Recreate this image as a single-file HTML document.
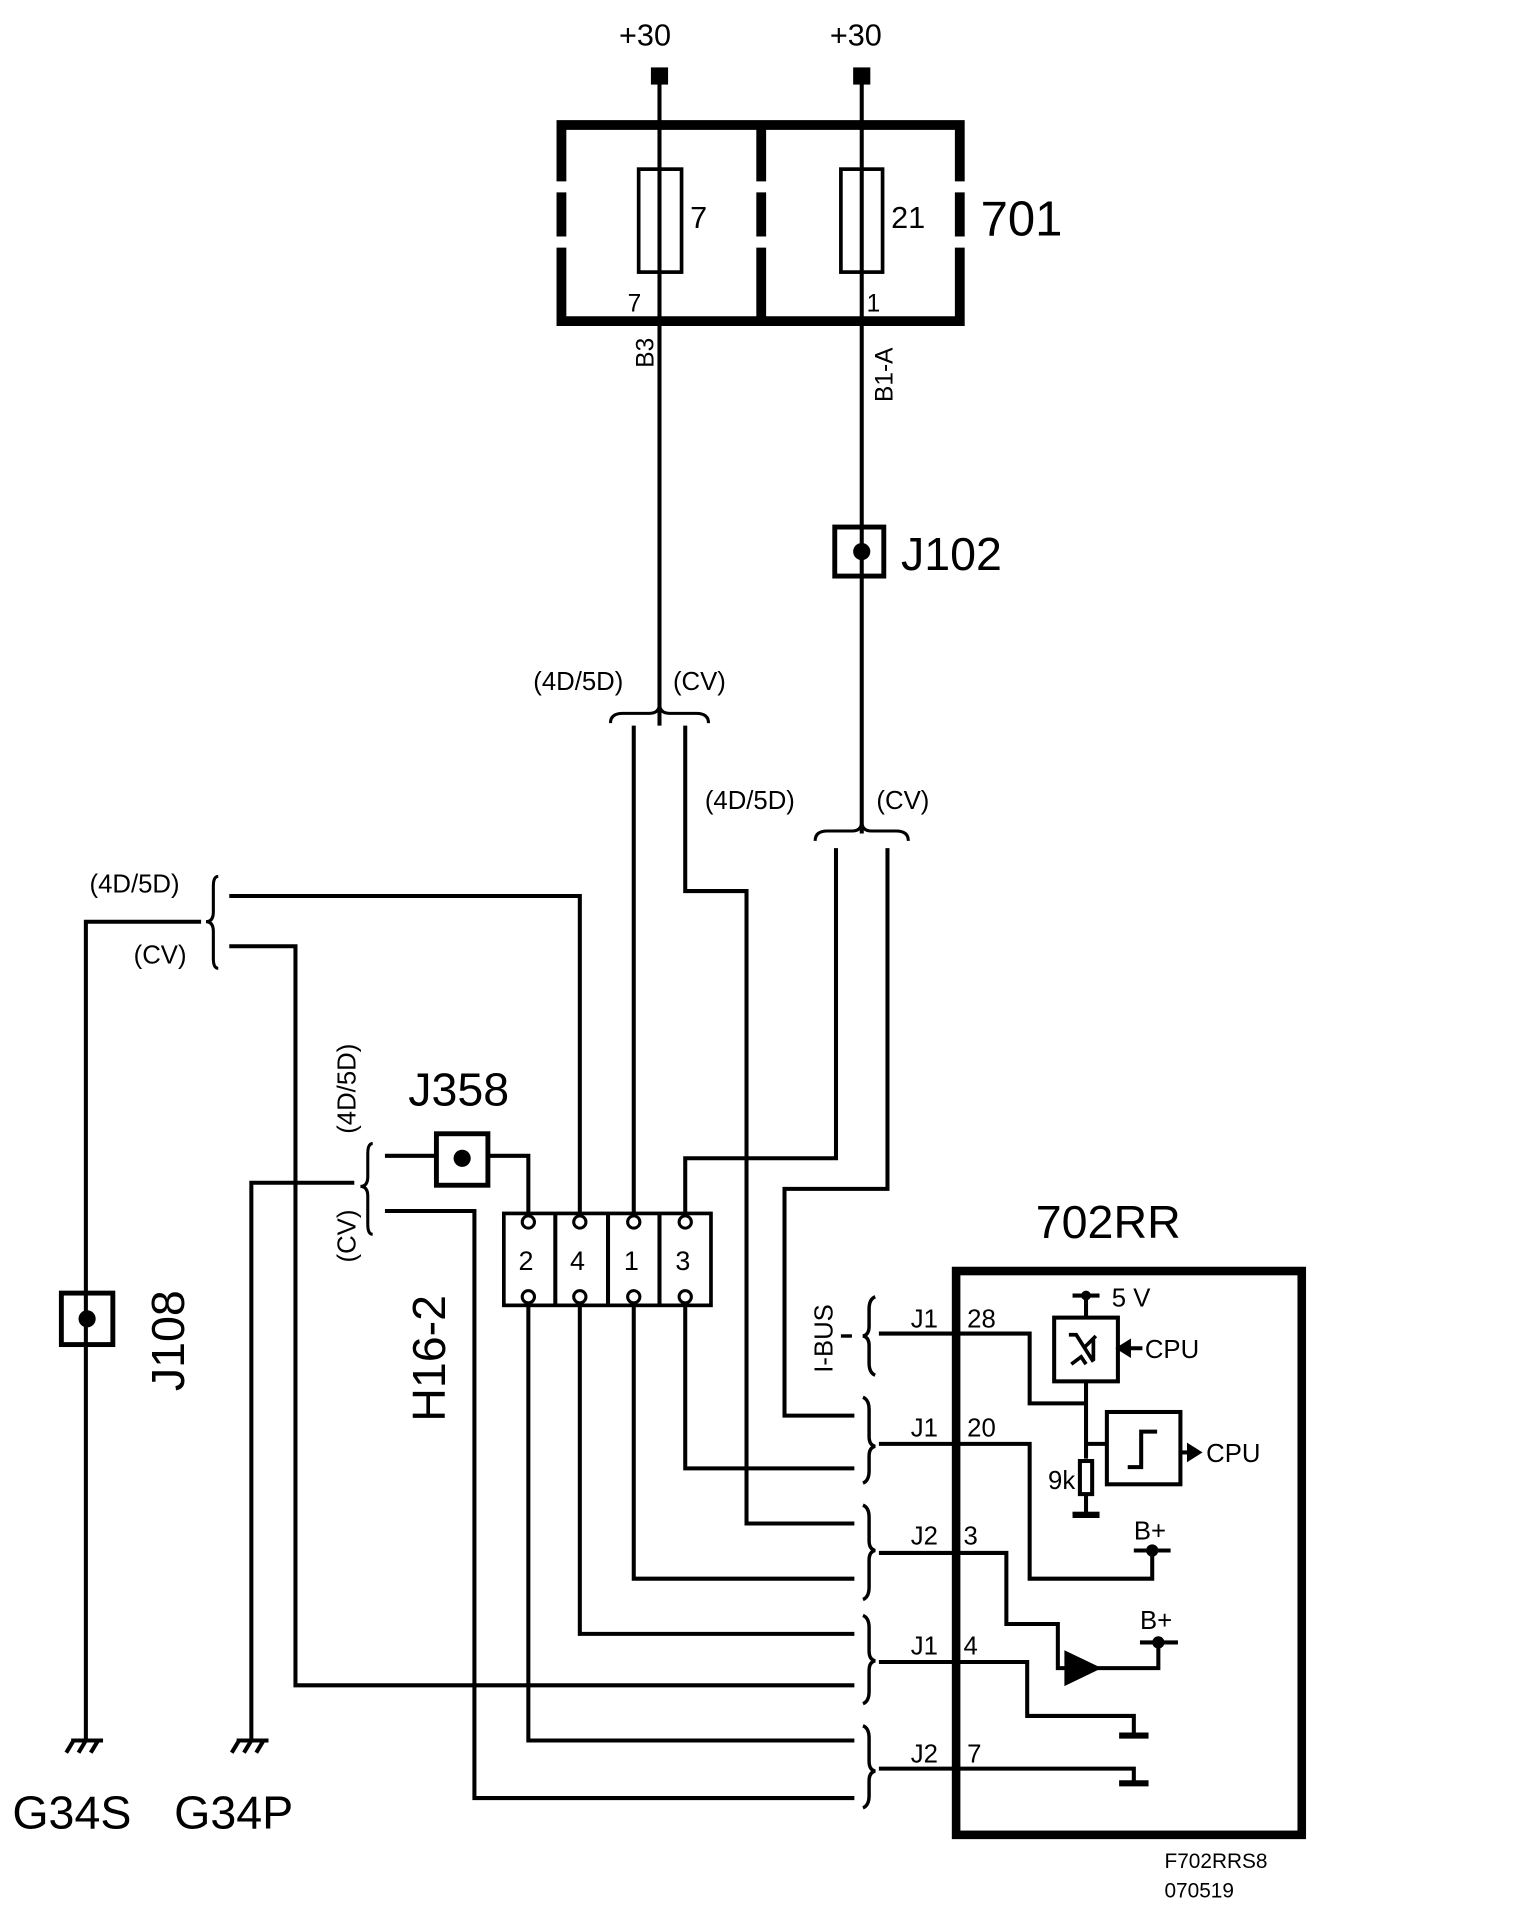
<!DOCTYPE html>
<html><head><meta charset="utf-8"><style>html,body{margin:0;padding:0;background:#fff}svg{display:block}text{font-family:"Liberation Sans",Arial,sans-serif;fill:#000}</style></head>
<body>
<svg width="1520" height="1928" viewBox="0 0 1240 1573" xmlns="http://www.w3.org/2000/svg">
<g fill="none" stroke="#000" stroke-width="3.3">
<rect x="531" y="55" width="14" height="14" fill="#000" stroke="none"/>
<rect x="696" y="55" width="14" height="14" fill="#000" stroke="none"/>
<g stroke-width="8">
<path d="M458,148 V102 H783 V148"/>
<path d="M458,157 V193 M458,202 V262 H783 V202 M783,193 V157"/>
<path d="M621,102 V148 M621,157 V193 M621,202 V262"/>
</g>
<rect x="521" y="138" width="35" height="84" stroke-width="3"/>
<rect x="686" y="138" width="34" height="84" stroke-width="3"/>
<path d="M538,62 V592 M703,62 V680"/>
<rect x="681" y="430" width="40" height="40" stroke-width="4"/>
<circle cx="703" cy="450" r="7" fill="#000" stroke="none"/>
<path d="M498,590 q0,-8 10,-8 H530 q8,0 8,-8 q0,8 8,8 H568 q10,0 10,8" stroke-width="2.5"/>
<path d="M517,592 V990 M559,592 V727 H609 V1243 H697"/>
<path d="M665,686 q0,-8 10,-8 H695 q8,0 8,-8 q0,8 8,8 H731 q10,0 10,8" stroke-width="2.5"/>
<path d="M682,692 V945 H559 V990 M724,692 V970 H640 V1155 H697"/>
<path d="M70,1420 V752 H164"/>
<path d="M178,715 q-4,0 -4,8 V744 q0,8 -6,8 q6,0 6,8 V782 q0,8 4,8" stroke-width="2.5"/>
<path d="M187,731 H473 V990 M187,772 H241 V1375 H697"/>
<rect x="50" y="1055" width="42" height="42" stroke-width="4"/>
<circle cx="71" cy="1076" r="7" fill="#000" stroke="none"/>
<path d="M205,1420 V965 H289"/>
<path d="M304,933 q-4,0 -4,8 V960 q0,8 -6,8 q6,0 6,8 V999 q0,8 4,8" stroke-width="2.5"/>
<path d="M314,943 H431 V990 M314,988 H387 V1467 H697"/>
<rect x="356" y="925" width="42" height="42" stroke-width="4" fill="#fff"/>
<circle cx="377" cy="945" r="7" fill="#000" stroke="none"/>
<rect x="411" y="990" width="169" height="75" stroke-width="3"/>
<path d="M453,990 V1065 M496,990 V1065 M538,990 V1065"/>
<g stroke-width="2.5" fill="#fff">
<circle cx="431" cy="997" r="5"/><circle cx="473" cy="997" r="5"/><circle cx="517" cy="997" r="5"/><circle cx="559" cy="997" r="5"/>
<circle cx="431" cy="1058" r="5"/><circle cx="473" cy="1058" r="5"/><circle cx="517" cy="1058" r="5"/><circle cx="559" cy="1058" r="5"/>
</g>
<path d="M431,1065 V1420 H697 M473,1065 V1333 H697 M517,1065 V1288 H697 M559,1065 V1198 H697"/>
<path d="M58,1420 H84 M60,1420 l-6,10 M70,1420 l-6,10 M80,1420 l-6,10"/>
<path d="M193,1420 H219 M195,1420 l-6,10 M205,1420 l-6,10 M215,1420 l-6,10"/>
<g stroke-width="2.8">
<path d="M714,1058 q-5,2 -5,10 V1082 q0,7 -5,8 q5,1 5,8 V1112 q0,8 5,10"/>
<path d="M686,1090 H695"/>
<path d="M704,1140 q5,2 5,10 V1172 q0,7 5,8 q-5,1 -5,8 V1200 q0,8 -5,10"/>
<path d="M704,1228 q5,2 5,10 V1257 q0,7 5,8 q-5,1 -5,8 V1295 q0,8 -5,10"/>
<path d="M704,1318 q5,2 5,10 V1347 q0,7 5,8 q-5,1 -5,8 V1380 q0,8 -5,10"/>
<path d="M704,1408 q5,2 5,10 V1437 q0,7 5,8 q-5,1 -5,8 V1465 q0,8 -5,10"/>
</g>
<rect x="780" y="1037" width="282" height="460" stroke-width="7"/>
<path d="M717,1088 H840 V1145 H886"/>
<path d="M875,1057 H897 M886,1057 V1075"/>
<circle cx="886" cy="1057" r="4" fill="#000" stroke="none"/>
<rect x="860" y="1075" width="52" height="52"/>
<path d="M872,1089 l6,0 l14,22 M884,1100 l10,-10 M874,1113 l8,-6 l4,6 M892,1093 V1110" stroke-width="3"/>
<path d="M918,1100 H932"/>
<path d="M913,1100 l8,-5 v10 z" fill="#000"/>
<path d="M886,1127 V1190 M886,1220 V1235 M875,1235 H897" />
<path d="M875,1236 H897" stroke-width="5"/>
<rect x="881" y="1192" width="10" height="27" fill="#fff"/>
<path d="M886,1178 H903"/>
<rect x="903" y="1152" width="60" height="59"/>
<path d="M920,1197 H931 V1168 H944"/>
<path d="M963,1185 H970"/>
<path d="M978,1185 l-8,-5 v10 z" fill="#000"/>
<path d="M717,1178 H840 V1288 H940 V1265"/>
<circle cx="940" cy="1265" r="5" fill="#000" stroke="none"/>
<path d="M925,1265 H955"/>
<path d="M717,1267 H821 V1325 H863 V1361 H870"/>
<path d="M870,1349 L895,1361 L870,1373 z" fill="#000"/>
<path d="M895,1361 H945 V1340"/>
<circle cx="945" cy="1340" r="5" fill="#000" stroke="none"/>
<path d="M930,1340 H961"/>
<path d="M717,1356 H838 V1400 H925 V1415"/>
<path d="M913,1416 H937" stroke-width="5"/>
<path d="M717,1443 H925 V1454"/>
<path d="M913,1455 H937" stroke-width="5"/>
</g>
<g font-size="25">
<text x="505" y="37">+30</text>
<text x="677" y="37">+30</text>
<text x="563" y="186">7</text>
<text x="727" y="186">21</text>
</g>
<text x="800" y="192" font-size="40">701</text>
<text x="512" y="254" font-size="20">7</text>
<text x="707" y="254" font-size="20">1</text>
<text transform="translate(533,300) rotate(-90)" font-size="20">B3</text>
<text transform="translate(728,328) rotate(-90)" font-size="20">B1-A</text>
<text x="735" y="465" font-size="38">J102</text>
<g font-size="21">
<text x="435" y="563">(4D/5D)</text>
<text x="549" y="563">(CV)</text>
<text x="575" y="660">(4D/5D)</text>
<text x="715" y="660">(CV)</text>
<text x="73" y="728">(4D/5D)</text>
<text x="109" y="786">(CV)</text>
<text transform="translate(290,925) rotate(-90)">(4D/5D)</text>
<text transform="translate(290,1030) rotate(-90)">(CV)</text>
<text transform="translate(679,1120) rotate(-90)">I-BUS</text>
</g>
<text x="333" y="902" font-size="38">J358</text>
<text transform="translate(150,1135) rotate(-90)" font-size="38">J108</text>
<text transform="translate(363,1160) rotate(-90)" font-size="38">H16-2</text>
<g font-size="22">
<text x="423" y="1036">2</text><text x="465" y="1036">4</text><text x="509" y="1036">1</text><text x="551" y="1036">3</text>
</g>
<text x="10" y="1492" font-size="38">G34S</text>
<text x="142" y="1492" font-size="38">G34P</text>
<text x="845" y="1010" font-size="38">702RR</text>
<g font-size="21">
<text x="743" y="1083">J1</text><text x="789" y="1083">28</text>
<text x="743" y="1172">J1</text><text x="789" y="1172">20</text>
<text x="743" y="1260">J2</text><text x="786" y="1260">3</text>
<text x="743" y="1350">J1</text><text x="786" y="1350">4</text>
<text x="743" y="1438">J2</text><text x="789" y="1438">7</text>
<text x="907" y="1066">5 V</text>
<text x="934" y="1108">CPU</text>
<text x="984" y="1193">CPU</text>
<text x="855" y="1215">9k</text>
<text x="925" y="1256">B+</text>
<text x="930" y="1329">B+</text>
</g>
<text x="950" y="1524" font-size="17">F702RRS8</text>
<text x="950" y="1548" font-size="17">070519</text>
</svg>
</body></html>
